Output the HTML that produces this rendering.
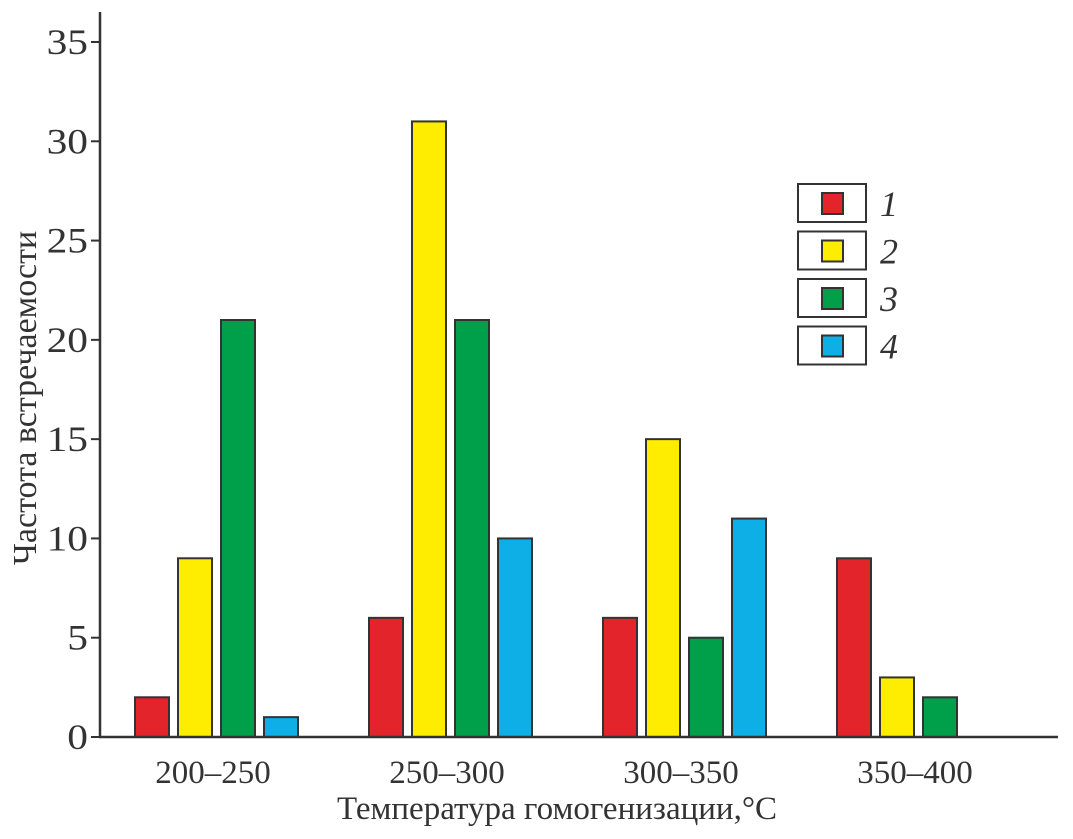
<!DOCTYPE html>
<html><head><meta charset="utf-8"><style>
body{margin:0;background:#fff}
svg text{font-family:"Liberation Serif",serif;fill:#333}
</style></head><body>
<svg width="1073" height="834">
<g id="plot"></g>
</svg>
<script>
const categories=["200–250","250–300","300–350","350–400"];
const s1=[2,6,6,9];
const s2=[9,31,15,3];
const s3=[21,21,5,2];
const s4=[1,10,11,0];
const yTicks=[0,5,10,15,20,25,30,35];
const seriesNames=["1","2","3","4"];
const colors=["#e3242b","#ffed00","#00a04a","#0eafe6"];
const NS="http://www.w3.org/2000/svg";
const g=document.getElementById('plot');
const y0=737,unit=(737-42)/35;
const y=v=>y0-v*unit;
const xc=i=>216+i*234;
function el(t,a,p){const e=document.createElementNS(NS,t);for(const k in a)e.setAttribute(k,a[k]);(p||g).appendChild(e);return e;}
const series=[s1,s2,s3,s4];
categories.forEach((c,i)=>{
  series.forEach((s,j)=>{
    if(s[i]<=0)return;
    const r=el('rect',{x:xc(i)-81+j*43,y:y(s[i]),width:34,height:y0-y(s[i]),fill:colors[j],stroke:"#333","stroke-width":2});
    
    
  });
  const t=el('text',{x:xc(i)-3,y:783,"font-size":33,"text-anchor":"middle"});t.textContent=c;
  
  
});
yTicks.forEach(v=>{
  const l=el('line',{x1:91,x2:100,y1:y(v),y2:y(v),stroke:"#333","stroke-width":2});
  
  
  const t=el('text',{x:88,y:y(v)+12,"font-size":36,"text-anchor":"end",transform:`translate(${88*-0.15},0) scale(1.15,1)`});t.textContent=v;
  
  
});
const ya=el('line',{x1:100,x2:100,y1:12,y2:738,stroke:"#333","stroke-width":2.5});


const xa=el('line',{x1:99,x2:1058,y1:737,y2:737,stroke:"#333","stroke-width":2.5});


const xt=el('text',{x:557,y:819,"font-size":33,"text-anchor":"middle"});xt.textContent="Температура гомогенизации,°C";


const yt=el('text',{x:0,y:0,"font-size":34,"text-anchor":"middle",transform:"translate(36,398) rotate(-90)"});yt.textContent="Частота встречаемости";


seriesNames.forEach((n,j)=>{
  const top=184+j*47.5;
  const b=el('rect',{x:798,y:top,width:68,height:38,fill:"#fff",stroke:"#333","stroke-width":2});
  
  
  const s=el('rect',{x:822,y:top+9,width:21,height:21,fill:colors[j],stroke:"#333","stroke-width":2});
  
  
  const t=el('text',{x:880,y:top+32,"font-size":36,"font-style":"italic"});t.textContent=n;
  
  
});
</script>
</body></html>
